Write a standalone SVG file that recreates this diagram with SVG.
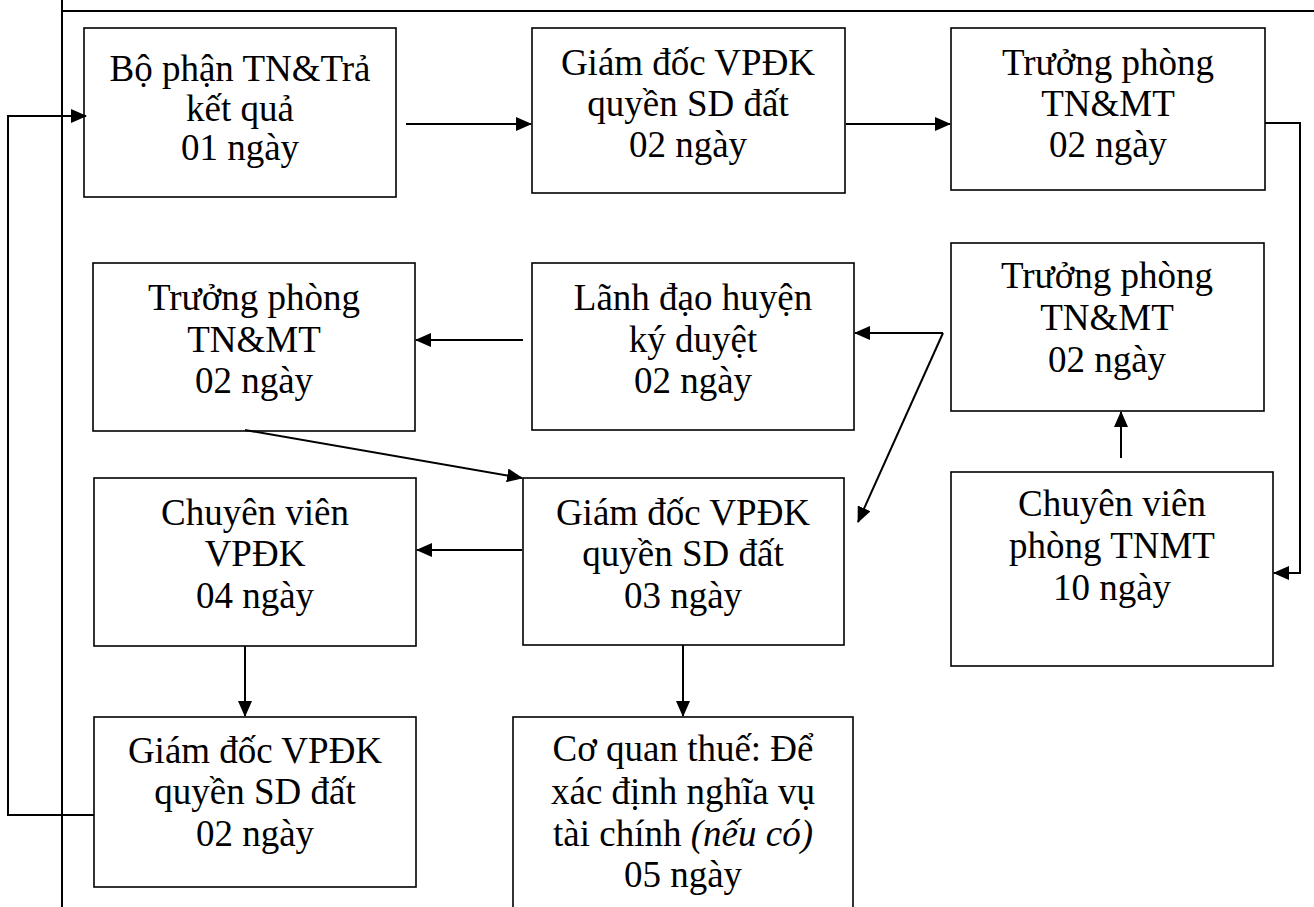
<svg xmlns="http://www.w3.org/2000/svg" width="1314" height="907" viewBox="0 0 1314 907">
<style>
.box{fill:#fff;stroke:#000;stroke-width:1.6}
.t{font-family:"Liberation Serif","Times New Roman",serif;font-size:37px;fill:#000;text-anchor:middle}
.c{fill:none;stroke:#000;stroke-width:2}
.f{fill:none;stroke:#000;stroke-width:2}
</style>
<defs>
<marker id="ah" markerUnits="userSpaceOnUse" markerWidth="16" markerHeight="14" refX="15" refY="7" orient="auto">
<path d="M0,0 L16,7 L0,14 Z" fill="#000"/>
</marker>
</defs>
<rect width="1314" height="907" fill="#fff"/>
<g id="frame">
<path class="f" d="M62,0 V907 M62,11 H1314"/>
</g>
<g id="n1"><rect class="box" x="84" y="28" width="312" height="169"/>
<text class="t" x="240" y="81">Bộ phận TN&amp;Trả</text><text class="t" x="240" y="121">kết quả</text><text class="t" x="240" y="160">01 ngày</text></g>
<g id="n2"><rect class="box" x="532" y="28" width="313" height="165"/>
<text class="t" x="688" y="75">Giám đốc VPĐK</text><text class="t" x="688" y="116">quyền SD đất</text><text class="t" x="688" y="157">02 ngày</text></g>
<g id="n3"><rect class="box" x="951" y="28" width="314" height="162"/>
<text class="t" x="1108" y="75">Trưởng phòng</text><text class="t" x="1108" y="116">TN&amp;MT</text><text class="t" x="1108" y="157">02 ngày</text></g>
<g id="n4"><rect class="box" x="93" y="263" width="322" height="168"/>
<text class="t" x="254" y="310">Trưởng phòng</text><text class="t" x="254" y="352">TN&amp;MT</text><text class="t" x="254" y="393">02 ngày</text></g>
<g id="n5"><rect class="box" x="532" y="263" width="322" height="167"/>
<text class="t" x="693" y="310">Lãnh đạo huyện</text><text class="t" x="693" y="352">ký duyệt</text><text class="t" x="693" y="393">02 ngày</text></g>
<g id="n6"><rect class="box" x="951" y="243" width="313" height="168"/>
<text class="t" x="1107" y="288">Trưởng phòng</text><text class="t" x="1107" y="330">TN&amp;MT</text><text class="t" x="1107" y="372">02 ngày</text></g>
<g id="n7"><rect class="box" x="94" y="478" width="322" height="168"/>
<text class="t" x="255" y="525">Chuyên viên</text><text class="t" x="255" y="566">VPĐK</text><text class="t" x="255" y="608">04 ngày</text></g>
<g id="n8"><rect class="box" x="523" y="478" width="321" height="167"/>
<text class="t" x="683" y="525">Giám đốc VPĐK</text><text class="t" x="683" y="566">quyền SD đất</text><text class="t" x="683" y="608">03 ngày</text></g>
<g id="n9"><rect class="box" x="951" y="472" width="322" height="194"/>
<text class="t" x="1112" y="516">Chuyên viên</text><text class="t" x="1112" y="558">phòng TNMT</text><text class="t" x="1112" y="600">10 ngày</text></g>
<g id="n10"><rect class="box" x="94" y="717" width="322" height="170"/>
<text class="t" x="255" y="763">Giám đốc VPĐK</text><text class="t" x="255" y="804">quyền SD đất</text><text class="t" x="255" y="846">02 ngày</text></g>
<g id="n11"><rect class="box" x="513" y="717" width="340" height="200"/>
<text class="t" x="683" y="761">Cơ quan thuế: Để</text><text class="t" x="683" y="804">xác định nghĩa vụ</text><text class="t" x="683" y="846">tài chính <tspan font-style="italic">(nếu có)</tspan></text><text class="t" x="683" y="887">05 ngày</text></g>
<g id="connectors">
<path class="c" d="M406,124 H531" marker-end="url(#ah)"/>
<path class="c" d="M846,124 H950" marker-end="url(#ah)"/>
<path class="c" d="M1265,123 H1300 V573 H1274" marker-end="url(#ah)"/>
<path class="c" d="M1121,458 V412" marker-end="url(#ah)"/>
<path class="c" d="M943,333 H855" marker-end="url(#ah)"/>
<path class="c" d="M943,333 L858,522" marker-end="url(#ah)"/>
<path class="c" d="M523,340 H416" marker-end="url(#ah)"/>
<path class="c" d="M245,430 L522,478" marker-end="url(#ah)"/>
<path class="c" d="M522,550 H417" marker-end="url(#ah)"/>
<path class="c" d="M245,646 V716" marker-end="url(#ah)"/>
<path class="c" d="M683,645 V716" marker-end="url(#ah)"/>
<path class="c" d="M94,815 H8 V116 H86" marker-end="url(#ah)"/>
</g>
</svg>
